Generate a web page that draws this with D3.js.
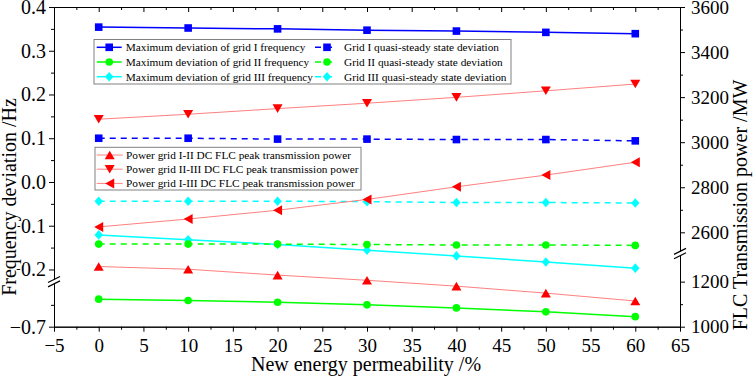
<!DOCTYPE html>
<html>
<head>
<meta charset="utf-8">
<script src="https://cdn.jsdelivr.net/npm/d3@7"></script>
<style>
  body { margin: 0; background: #fff; }
  svg { display: block; }
  text { font-family: "Liberation Serif", "Times New Roman", serif; fill: #000; }
  .axis path, .axis line { stroke: #000; stroke-width: 1; }
</style>
</head>
<body>
<div id="chart"></div>
<script>
// x values (new energy permeability, %)
let permeability = [0, 10, 20, 30, 40, 50, 60]

// frequency deviation series (Hz), left axis
let maxDevI = [0.354, 0.352, 0.350, 0.347, 0.345, 0.342, 0.339]
let maxDevII = [-0.637, -0.640, -0.644, -0.650, -0.657, -0.666, -0.677]
let maxDevIII = [-0.121, -0.132, -0.143, -0.156, -0.169, -0.183, -0.197]
let quasiI = [0.100, 0.100, 0.098, 0.098, 0.097, 0.097, 0.094]
let quasiII = [-0.142, -0.142, -0.142, -0.143, -0.144, -0.144, -0.145]
let quasiIII = [-0.044, -0.044, -0.044, -0.045, -0.047, -0.047, -0.048]

// FLC peak transmission power (MW), right axis
let powerI_II = [1267, 1255, 1229, 1206, 1180, 1149, 1114]
let powerII_III = [3102, 3124, 3149, 3173, 3199, 3228, 3258]
let powerI_III = [2624, 2659, 2698, 2746, 2802, 2854, 2911]

// tick labels
let xTicks = [-5, 0, 5, 10, 15, 20, 25, 30, 35, 40, 45, 50, 55, 60, 65]
let leftTicksUpper = [0.4, 0.3, 0.2, 0.1, 0.0, -0.1, -0.2]
let leftTicksLower = [-0.7]
let rightTicksUpper = [2600, 2800, 3000, 3200, 3400, 3600]
let rightTicksLower = [1000, 1200]

let width = 754, height = 376
let svg = d3.select('#chart').append('svg').attr('width', width).attr('height', height)

let x = d3.scaleLinear().domain([-5, 65]).range([54, 680])
// broken left axis
let yLU = d3.scaleLinear().domain([-0.225, 0.4]).range([280.4, 7])
let yLL = d3.scaleLinear().domain([-0.7, -0.6]).range([326.7, 283])
let yL = v => v > -0.4 ? yLU(v) : yLL(v)
// broken right axis
let yRU = d3.scaleLinear().domain([2510, 3600]).range([252.6, 7])
let yRL = d3.scaleLinear().domain([1000, 1320]).range([326.7, 254.6])
let yR = v => v > 2000 ? yRU(v) : yRL(v)

let fmt1 = d3.format('.1f')
let fmtInt = d3.format('d')

// axes
let bottomAxis = svg.append('g').attr('class', 'axis').attr('transform', 'translate(0,326.7)')
bottomAxis.call(d3.axisBottom(x).tickValues(d3.range(-2.5, 65, 5)).tickSize(3).tickSizeOuter(0).tickFormat(''))
bottomAxis.append('g').call(d3.axisBottom(x).tickValues(xTicks).tickSize(5).tickSizeOuter(0).tickPadding(7))
    .selectAll('text').style('font-size', '19px')

let topAxis = svg.append('g').attr('class', 'axis').attr('transform', 'translate(0,7)')
topAxis.call(d3.axisBottom(x).tickValues(d3.range(-2.5, 65, 5)).tickSize(3).tickSizeOuter(0).tickFormat(''))
topAxis.append('g').call(d3.axisBottom(x).tickValues(xTicks).tickSize(5).tickSizeOuter(0).tickFormat(''))

let leftAxis = svg.append('g').attr('class', 'axis').attr('transform', 'translate(54,0)')
leftAxis.append('g').call(d3.axisLeft(yLU).tickValues(d3.range(0.35, -0.2, -0.1)).tickSize(3).tickSizeOuter(0).tickFormat(''))
leftAxis.append('g').call(d3.axisLeft(yLU).tickValues(leftTicksUpper).tickSize(5).tickSizeOuter(0).tickPadding(3).tickFormat(d => d === 0 ? '0.0' : fmt1(d)))
    .selectAll('text').style('font-size', '20px')
leftAxis.append('g').call(d3.axisLeft(yLL).tickValues([-0.65]).tickSize(3).tickSizeOuter(0).tickFormat(''))
leftAxis.append('g').call(d3.axisLeft(yLL).tickValues(leftTicksLower).tickSize(5).tickSizeOuter(0).tickPadding(3).tickFormat(fmt1))
    .selectAll('text').style('font-size', '20px')

let rightAxis = svg.append('g').attr('class', 'axis').attr('transform', 'translate(680,0)')
rightAxis.append('g').call(d3.axisRight(yRU).tickValues(d3.range(2700, 3600, 200)).tickSize(3).tickSizeOuter(0).tickFormat(''))
rightAxis.append('g').call(d3.axisRight(yRU).tickValues(rightTicksUpper).tickSize(5).tickSizeOuter(0).tickPadding(6).tickFormat(fmtInt))
    .selectAll('text').style('font-size', '19px')
rightAxis.append('g').call(d3.axisRight(yRL).tickValues([1100]).tickSize(3).tickSizeOuter(0).tickFormat(''))
rightAxis.append('g').call(d3.axisRight(yRL).tickValues(rightTicksLower).tickSize(5).tickSizeOuter(0).tickPadding(6).tickFormat(fmtInt))
    .selectAll('text').style('font-size', '19px')

// break marks
let drawBreak = (cx, cy) => {
    svg.append('rect').attr('x', cx - 3).attr('y', cy - 2).attr('width', 6).attr('height', 4).attr('fill', '#fff')
    ;[-2.2, 2.2].forEach(o => {
        svg.append('line')
            .attr('x1', cx - 6).attr('y1', cy + o + 3)
            .attr('x2', cx + 6).attr('y2', cy + o - 3)
            .attr('stroke', '#000').attr('stroke-width', 1.2)
    })
}
drawBreak(54, (yLU(-0.225) + yLL(-0.6)) / 2)
drawBreak(680, (yRU(2510) + yRL(1320)) / 2)

// marker shapes
let shapes = {
    square: 'M-3.8,-3.8H3.8V3.8H-3.8Z',
    circle: d3.symbol(d3.symbolCircle, 46)(),
    diamond: 'M0,-4.8L4.2,0L0,4.8L-4.2,0Z',
    triUp: 'M0,-4.3L5,4.3L-5,4.3Z',
    triDown: 'M0,4.3L5,-4.3L-5,-4.3Z',
    triLeft: 'M-4.5,0L4.5,-5L4.5,5Z'
}

let series = [
    {name: 'Maximum deviation of grid I frequency', values: maxDevI, y: yL, line: '#0000ff', mark: '#0000ff', dash: null, shape: 'square', w: 1.5},
    {name: 'Maximum deviation of grid II frequency', values: maxDevII, y: yL, line: '#00ff00', mark: '#00ff00', dash: null, shape: 'circle', w: 1.5},
    {name: 'Maximum deviation of grid III frequency', values: maxDevIII, y: yL, line: '#00ffff', mark: '#00ffff', dash: null, shape: 'diamond', w: 1.5},
    {name: 'Grid I quasi-steady state deviation', values: quasiI, y: yL, line: '#0000ff', mark: '#0000ff', dash: '6,5', shape: 'square', w: 1.5},
    {name: 'Grid II quasi-steady state deviation', values: quasiII, y: yL, line: '#00ff00', mark: '#00ff00', dash: '6,5', shape: 'circle', w: 1.5},
    {name: 'Grid III quasi-steady state deviation', values: quasiIII, y: yL, line: '#00ffff', mark: '#00ffff', dash: '6,5', shape: 'diamond', w: 1.5},
    {name: 'Power grid I-II DC FLC peak transmission power', values: powerI_II, y: yR, line: '#ff8080', mark: '#ff0000', dash: null, shape: 'triUp', w: 1},
    {name: 'Power grid II-III DC FLC peak transmission power', values: powerII_III, y: yR, line: '#ff8080', mark: '#ff0000', dash: null, shape: 'triDown', w: 1},
    {name: 'Power grid I-III DC FLC peak transmission power', values: powerI_III, y: yR, line: '#ff8080', mark: '#ff0000', dash: null, shape: 'triLeft', w: 1}
]

let plot = svg.append('g')
series.forEach(s => {
    let pts = s.values.map((v, i) => [x(permeability[i]), s.y(v)])
    plot.append('path')
        .attr('d', d3.line()(pts))
        .attr('fill', 'none')
        .attr('stroke', s.line)
        .attr('stroke-width', s.w)
        .attr('stroke-dasharray', s.dash)
    plot.selectAll(null).data(pts).enter().append('path')
        .attr('d', shapes[s.shape])
        .attr('transform', p => `translate(${p[0]},${p[1]})`)
        .attr('fill', s.mark)
})

// legends
let drawLegend = (items, box, cols) => {
    let g = svg.append('g')
    g.append('rect').attr('x', box.x).attr('y', box.y).attr('width', box.w).attr('height', box.h)
        .attr('fill', '#fff').attr('stroke', '#808080').attr('stroke-width', 1)
    items.forEach((s, i) => {
        let c = cols[Math.floor(i / box.rows)]
        let yy = box.y0 + (i % box.rows) * box.step
        g.append('line').attr('x1', c.x1).attr('x2', c.x2).attr('y1', yy).attr('y2', yy)
            .attr('stroke', s.line).attr('stroke-width', s.w).attr('stroke-dasharray', s.dash)
        g.append('path').attr('d', shapes[s.shape]).attr('transform', `translate(${c.m},${yy})`).attr('fill', s.mark)
        g.append('text').attr('x', c.t).attr('y', yy).attr('dy', '0.35em')
            .style('font-size', '11.3px').text(s.name)
    })
}
drawLegend(series.slice(0, 6), {x: 94, y: 39.5, w: 417, h: 44.5, rows: 3, y0: 47.3, step: 14.7},
    [{x1: 96.7, x2: 121.7, m: 109.2, t: 125.7}, {x1: 315, x2: 335, m: 327, t: 344}])
drawLegend(series.slice(6), {x: 95, y: 147.3, w: 266, h: 42.7, rows: 3, y0: 155, step: 14.2},
    [{x1: 96.7, x2: 122.7, m: 109.7, t: 126}])

// axis titles
svg.append('text').attr('x', 366).attr('y', 371).attr('text-anchor', 'middle')
    .style('font-size', '20px').text('New energy permeability /%')
svg.append('text').attr('transform', 'translate(16,197) rotate(-90)').attr('text-anchor', 'middle')
    .style('font-size', '20px').style('stroke', '#fff').style('stroke-width', 3).style('paint-order', 'stroke')
    .text('Frequency deviation /Hz')
svg.append('text').attr('transform', 'translate(747,205) rotate(-90)').attr('text-anchor', 'middle')
    .style('font-size', '20px').text('FLC Transmission power /MW')
</script>
</body>
</html>
